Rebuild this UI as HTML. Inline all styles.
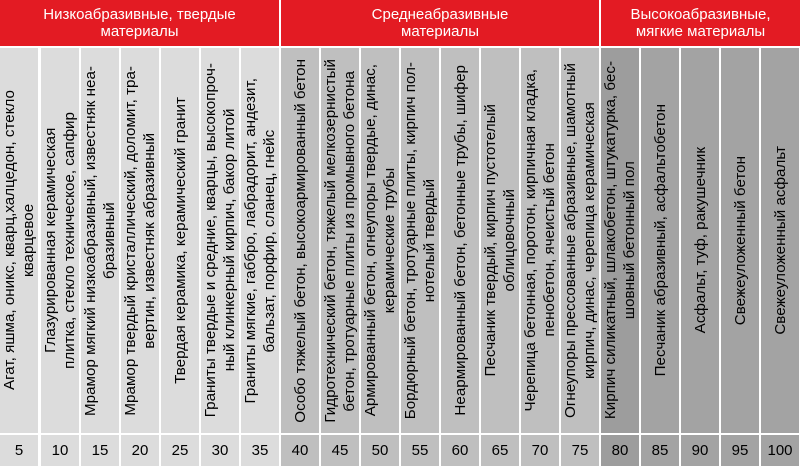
<!DOCTYPE html>
<html><head><meta charset="utf-8"><style>
html,body{margin:0;padding:0;background:#fff;width:800px;height:469px;overflow:hidden}
body{position:relative;font-family:"Liberation Sans",Arial,sans-serif}
.h{position:absolute;top:0;height:46px;background:#e31b23;color:#fff;font-size:15px;line-height:17px;display:flex;align-items:center;justify-content:center;text-align:center}
.c{position:absolute;top:48px;height:385px;width:38px;display:flex;align-items:center;justify-content:center}
.c div{writing-mode:vertical-rl;transform:rotate(180deg);font-size:15.2px;line-height:19px;text-align:center;color:#000;white-space:nowrap}
.n{position:absolute;top:435px;height:31px;width:38px;font-size:15px;color:#000;display:flex;align-items:center;justify-content:center}
.g1{background:#dcdcdc}.g2{background:#bfbfbf}.g3{background:#a3a3a3}.g3a{background:#9d9d9d}
</style></head><body>
<div class="h" style="left:0;width:279px">Низкоабразивные, твердые<br>материалы</div>
<div class="h" style="left:281px;width:318px">Среднеабразивные<br>материалы</div>
<div class="h" style="left:601px;width:199px">Высокоабразивные,<br>мягкие материалы</div>

<div class="c g1" style="left:0px"><div>Агат, яшма, оникс, кварц,халцедон, стекло<br>кварцевое</div></div>
<div class="c g1" style="left:41px"><div>Глазурированная керамическая<br>плитка, стекло техническое, сапфир</div></div>
<div class="c g1" style="left:81px"><div>Мрамор мягкий низкоабразивный, известняк неа-<br>бразивный</div></div>
<div class="c g1" style="left:121px"><div>Мрамор твердый кристаллический, доломит, тра-<br>вертин, известняк абразивный</div></div>
<div class="c g1" style="left:161px"><div>Твердая керамика, керамический гранит</div></div>
<div class="c g1" style="left:201px"><div>Граниты твердые и средние, кварцы, высокопроч-<br>ный клинкерный кирпич, бакор литой</div></div>
<div class="c g1" style="left:241px"><div>Граниты мягкие, габбро, лабрадорит, андезит,<br>бальзат, порфир, сланец, гнейс</div></div>
<div class="c g2" style="left:281px"><div>Особо тяжелый бетон, высокоармированный бетон</div></div>
<div class="c g2" style="left:321px"><div>Гидротехнический бетон, тяжелый мелкозернистый<br>бетон, тротуарные плиты из промывного бетона</div></div>
<div class="c g2" style="left:361px"><div>Армированный бетон, огнеупоры твердые, динас,<br>керамические трубы</div></div>
<div class="c g2" style="left:401px"><div>Бордюрный бетон, тротуарные плиты, кирпич пол-<br>нотелый твердый</div></div>
<div class="c g2" style="left:441px"><div>Неармированный бетон, бетонные трубы, шифер</div></div>
<div class="c g2" style="left:481px"><div>Песчаник твердый, кирпич пустотелый<br>облицовочный</div></div>
<div class="c g2" style="left:521px"><div>Черепица бетонная, поротон, кирпичная кладка,<br>пенобетон, ячеистый бетон</div></div>
<div class="c g2" style="left:561px"><div>Огнеупоры прессованные абразивные, шамотный<br>кирпич, динас, черепица керамическая</div></div>
<div class="c g3a" style="left:601px"><div>Кирпич силикатный, шлакобетон, штукатурка, бес-<br>шовный бетонный пол</div></div>
<div class="c g3" style="left:641px"><div>Песчаник абразивный, асфальтобетон</div></div>
<div class="c g3" style="left:681px"><div>Асфальт, туф, ракушечник</div></div>
<div class="c g3" style="left:721px"><div>Свежеуложенный бетон</div></div>
<div class="c g3" style="left:761px"><div>Свежеуложенный асфальт</div></div>

<div class="n g1" style="left:0px">5</div>
<div class="n g1" style="left:41px">10</div>
<div class="n g1" style="left:81px">15</div>
<div class="n g1" style="left:121px">20</div>
<div class="n g1" style="left:161px">25</div>
<div class="n g1" style="left:201px">30</div>
<div class="n g1" style="left:241px">35</div>
<div class="n g2" style="left:281px">40</div>
<div class="n g2" style="left:321px">45</div>
<div class="n g2" style="left:361px">50</div>
<div class="n g2" style="left:401px">55</div>
<div class="n g2" style="left:441px">60</div>
<div class="n g2" style="left:481px">65</div>
<div class="n g2" style="left:521px">70</div>
<div class="n g2" style="left:561px">75</div>
<div class="n g3a" style="left:601px">80</div>
<div class="n g3" style="left:641px">85</div>
<div class="n g3" style="left:681px">90</div>
<div class="n g3" style="left:721px">95</div>
<div class="n g3" style="left:761px">100</div>
</body></html>
